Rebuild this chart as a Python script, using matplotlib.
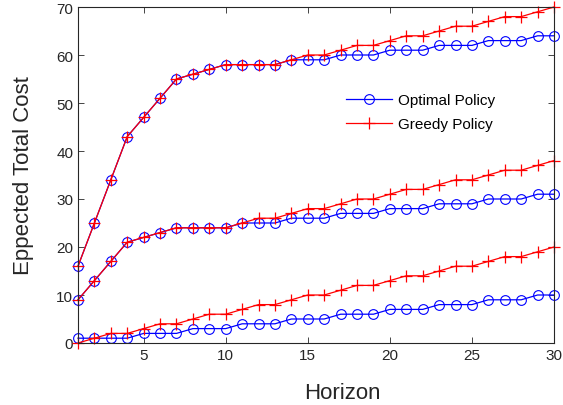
import numpy as np
import matplotlib

matplotlib.use("Agg")
import matplotlib.pyplot as plt

plt.rcParams.update({"font.family": ["Liberation Sans", "DejaVu Sans"]})

horizon = np.arange(1, 31)

# three scenarios (top / middle / bottom curves), optimal vs greedy
opt_high = [16, 25, 34, 43, 47, 51, 55, 56, 57, 58, 58, 58, 58, 59, 59,
            59, 60, 60, 60, 61, 61, 61, 62, 62, 62, 63, 63, 63, 64, 64]
greedy_high = [16, 25, 34, 43, 47, 51, 55, 56, 57, 58, 58, 58, 58, 59, 60,
               60, 61, 62, 62, 63, 64, 64, 65, 66, 66, 67, 68, 68, 69, 70]
opt_mid = [9, 13, 17, 21, 22, 23, 24, 24, 24, 24, 25, 25, 25, 26, 26,
           26, 27, 27, 27, 28, 28, 28, 29, 29, 29, 30, 30, 30, 31, 31]
greedy_mid = [9, 13, 17, 21, 22, 23, 24, 24, 24, 24, 25, 26, 26, 27, 28,
              28, 29, 30, 30, 31, 32, 32, 33, 34, 34, 35, 36, 36, 37, 38]
opt_low = [1, 1, 1, 1, 2, 2, 2, 3, 3, 3, 4, 4, 4, 5, 5,
           5, 6, 6, 6, 7, 7, 7, 8, 8, 8, 9, 9, 9, 10, 10]
greedy_low = [0, 1, 2, 2, 3, 4, 4, 5, 6, 6, 7, 8, 8, 9, 10,
              10, 11, 12, 12, 13, 14, 14, 15, 16, 16, 17, 18, 18, 19, 20]

fig = plt.figure(figsize=(5.63, 4.06), dpi=100)
ax = fig.add_axes([78 / 563, 62 / 406, 476 / 563, 336 / 406])

opt_style = dict(color="#0000ff", marker="o", mfc="none", ms=7, mew=0.8, lw=0.9)
gr_style = dict(color="#ff0000", marker="+", ms=8, mew=0.9, lw=0.9)

for i, (o, g) in enumerate([(opt_high, greedy_high), (opt_mid, greedy_mid), (opt_low, greedy_low)]):
    ax.plot(horizon, o, label="Optimal Policy" if i == 0 else None, clip_on=False, **opt_style)
    ax.plot(horizon, g, label="Greedy Policy" if i == 0 else None, clip_on=False, **gr_style)

ax.set_xlim(1, 30)
ax.set_ylim(0, 70)
ax.set_xticks([5, 10, 15, 20, 25, 30])
ax.set_yticks(np.arange(0, 71, 10))
ax.tick_params(direction="in", top=True, right=True, labelsize=11, length=4, width=0.6, colors="#262626")
for s in ax.spines.values():
    s.set_linewidth(0.8)
    s.set_color("#262626")
ax.set_xlabel("Horizon", fontsize=16, color="#262626")
ax.xaxis.set_label_coords(0.555, -0.117)
ax.set_ylabel("Eppected Total Cost", fontsize=16, color="#262626", labelpad=16)

ax.legend(frameon=False, fontsize=11, loc="upper left", bbox_to_anchor=(0.535, 0.785),
          handlelength=3.0, handletextpad=0.4, labelspacing=0.65)

fig.savefig("out.png", dpi=100)
